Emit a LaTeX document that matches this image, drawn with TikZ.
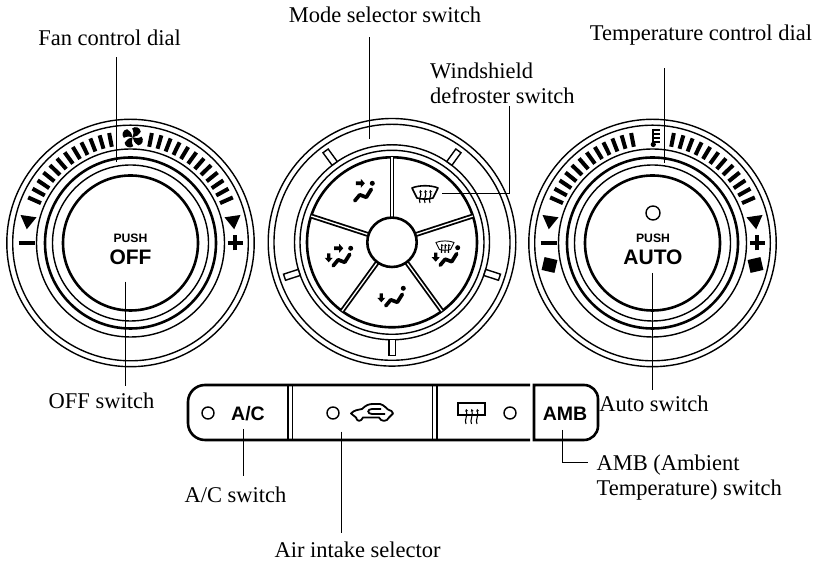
\documentclass[tikz,border=0pt]{standalone}
\usepackage{fontspec}
\setmainfont{Liberation Serif}
\newfontfamily\panelfont{Liberation Sans}
\usetikzlibrary{positioning,calc,arrows.meta}

\tikzset{
	lbl/.style={inner sep=0pt, font=\fontsize{22.5}{25}\selectfont, align=left},
	leader/.style={line width=0.9pt},
	thinring/.style={line width=1.4pt},
	thickring/.style={line width=2.6pt},
	tick/.style={line width=4pt},
	sansbig/.style={inner sep=0pt, font=\panelfont\bfseries\fontsize{21}{21}\selectfont},
	sanssmall/.style={inner sep=0pt, font=\panelfont\bfseries\fontsize{12.2}{13}\selectfont},
	sanspanel/.style={inner sep=0pt, font=\panelfont\bfseries\fontsize{19.5}{20}\selectfont},
	spoke/.style={line width=1.8pt, double=white, double distance=1.3pt},
	lamp/.style={line width=1.4pt, fill=white},
	wave/.style={line width=1.1pt, -{Stealth[length=2.6pt,width=3pt]}},
}

\newcommand{\knobrings}[1]{
	\begin{scope}[shift={(#1,318)}]
		\draw[thinring] (0,0) circle (123.7);
		\draw[thinring] (0,0) circle (117.8);
		\draw[thinring] (0,0) circle (94);
		\draw[thickring] (0,0) circle (85.5);
		\draw[thinring] (0,0) circle (78);
		\draw[thickring] (0,0) circle (67.5);
		\foreach \a in {0,...,11} {
			\draw[tick] (101+\a*5:98) -- (101+\a*5:112);
			\draw[tick] (79-\a*5:98) -- (79-\a*5:112);
		}
		\fill (-110,28) -- (-94,25.7) -- (-103.7,13.7) -- cycle;
		\fill (110,28) -- (94,25.7) -- (103.7,13.7) -- cycle;
		\draw[line width=4.6pt] (-112,0) -- (-96,0);
		\draw[line width=4.6pt] (97,0) -- (112,0) (104.5,-7.5) -- (104.5,7.5);
	\end{scope}
}
\newcommand{\seatbody}[2]{
	\begin{scope}[shift={(#1,#2)}]
		\fill (0,0) circle (2.5);
		\draw[line width=3.7pt, line cap=round, line join=round] (-17.5,-17.5) -- (-12.5,-11.5) -- (-6,-14) -- (-1,-6);
	\end{scope}
}
\newcommand{\ventarrow}[2]{
	\begin{scope}[shift={(#1,#2)}]
		\fill (-16.5,-1.8) -- (-11.5,-1.8) -- (-11.5,-4.5) -- (-7.5,0) -- (-11.5,4.5) -- (-11.5,1.8) -- (-16.5,1.8) -- cycle;
	\end{scope}
}
\newcommand{\footarrow}[2]{
	\begin{scope}[shift={(#1,#2)}]
		\fill (-23.6,-5) -- (-20.4,-5) -- (-20.4,-9.5) -- (-18,-9.5) -- (-22,-14) -- (-26,-9.5) -- (-23.6,-9.5) -- cycle;
	\end{scope}
}
\newcommand{\screenicon}[4]{
	\begin{scope}[shift={(#1,#2)},scale=#3]
		\draw[line width=#4, line join=round] (-13,5) .. controls (-6,8) and (6,8) .. (13,5) -- (8,-5) .. controls (3,-6.5) and (-3,-6.5) .. (-8,-5) -- cycle;
		\foreach \x in {-5,0,5}
			\draw[wave] (\x,-10) .. controls (\x-2,-6) and (\x+2,-3) .. (\x,3);
	\end{scope}
}

\begin{document}
\begin{tikzpicture}[x=1pt, y=1pt]
	\useasboundingbox (0,0) rectangle (817,561);

	\knobrings{130.5}
	\knobrings{652.5}

	\begin{scope}[shift={(132.7,423.7)}]
		\foreach \r in {0,90,180,270}
			\fill[rotate=\r+20] (0,0) .. controls (1,3) and (0,6) .. (-2.5,9.5) .. controls (-7,10.5) and (-10,6) .. (-8.5,2.5) .. controls (-5,3) and (-2,2) .. (0,0) -- cycle;
	\end{scope}
	\draw[line width=2pt] (653.3,432) -- (653.3,417);
	\fill (653.3,416.5) circle (2.6);
	\foreach \y in {431,427,423,419}
		\draw[line width=1.1pt] (653.3,\y) -- (660,\y);
	\foreach \x in {-103,103}
		\fill[shift={(652.5+\x,318-22)},rotate=\x/103*13] (-6.6,-6.6) rectangle (6.6,6.6);

	\node[sansbig] (off) at (130.5,304) {OFF};
	\node[sanssmall, above=7pt of off] (push1) {PUSH};
	\node[sansbig] (auto) at (653,304) {AUTO};
	\node[sanssmall, above=7pt of auto] (push2) {PUSH};
	\draw[lamp] (653,348) circle (7);

	\begin{scope}[shift={(392,318.7)}]
		\draw[thinring] (0,0) circle (123.8);
		\draw[thinring] (0,0) circle (118);
		\draw[thinring] (0,0) circle (97.5);
		\draw[thinring] (0,0) circle (92);
		\draw[thickring] (0,0) circle (85);
		\foreach \a in {54,126,198,270,342}
			\draw[thinring, fill=white, rotate=\a] (97.5,-3.2) rectangle (113,3.2);
		\foreach \a in {18,90,162,234,306}
			\draw[spoke] (\a:24) -- (\a:85);
		\draw[line width=2.6pt, fill=white] (0,0) circle (24.7);
	\end{scope}

	\seatbody{372.3}{377.7}
	\ventarrow{372.3}{377.7}
	\seatbody{350.7}{312.7}
	\ventarrow{350.7}{312.7}
	\footarrow{350.7}{312.7}
	\seatbody{403.3}{272.7}
	\footarrow{403.3}{272.7}
	\seatbody{457.7}{313.3}
	\footarrow{457.7}{313.3}
	\screenicon{425}{368}{1}{1.6pt}
	\screenicon{445}{315}{0.7}{0.9pt}

	\draw[thickring] (530,176) -- (205,176) arc[start angle=90, end angle=180, radius=17] -- (188,138) arc[start angle=180, end angle=270, radius=17] -- (530,121);
	\draw[thickring] (534,121) -- (534,176) -- (584,176) arc[start angle=90, end angle=0, radius=14] -- (598,135) arc[start angle=0, end angle=-90, radius=14] -- cycle;
	\foreach \x in {288,292.5,432.5,437}
		\draw[line width=1.4pt] (\x,121) -- (\x,176);

	\draw[lamp] (208,148) circle (6);
	\draw[lamp] (333,148) circle (6);
	\draw[lamp] (510,148) circle (6);
	\node[sanspanel] (ac) at (248,147.5) {A/C};
	\node[sanspanel] (amb) at (565,147.5) {AMB};

	\draw[line width=1.8pt, line join=round] (351,147.5) .. controls (354,151) and (358,151) .. (362,152) .. controls (366,156) and (369,157) .. (373,157) -- (380,157) .. controls (384,156) and (386,153) .. (388,151.5) .. controls (391,150.5) and (393,149.5) .. (393,147.5) -- (389,143.5) .. controls (387,139) and (381,139) .. (379,143.5) -- (363,143.5) .. controls (361,139) and (357,139) .. (356,143.5) -- cycle;
	\draw[line width=1.8pt] (381,152) -- (372,152) .. controls (367,152) and (367,147) .. (372,147) -- (385,147);

	\draw[line width=1.6pt] (458,146) -- (458,158) -- (485,158) -- (485,146) -- cycle;
	\foreach \x in {466,471.5,477}
		\draw[wave] (\x,137) .. controls (\x-2,141) and (\x+2,145) .. (\x,152);

	\node[lbl] (fanlbl) at (109.5,523) {Fan control dial};
	\node[lbl] (modelbl) at (385,546) {Mode selector switch};
	\node[lbl, anchor=west] (screenlbl) at (430,477.5) {Windshield\\defroster switch};
	\node[lbl] (templbl) at (701,526) {Temperature control dial};
	\node[lbl] (offlbl) at (101.5,160) {OFF switch};
	\node[lbl] (autolbl) at (654,157) {Auto switch};
	\node[lbl] (aclbl) at (235.5,66) {A/C switch};
	\node[lbl] (airlbl) at (357.6,11) {Air intake selector};
	\node[lbl, anchor=west] (amblbl) at (596.4,83.5) {AMB (Ambient\\Temperature) switch};

	\coordinate (fanend) at (116,399);
	\coordinate (modeend) at (369.3,422);
	\coordinate (screenend) at (442,367.7);
	\coordinate (screenknee) at (509.3,367.7);
	\coordinate (tempend) at (664.3,398);
	\coordinate (offend) at (125.5,279.4);
	\coordinate (autoend) at (652.3,288);
	\coordinate (acend) at (243.3,132);
	\coordinate (airend) at (341.7,129.3);
	\coordinate (ambend) at (562,131);
	\coordinate (ambknee) at (562,99);

	\draw[leader, shorten >=11pt] (fanend) -- (fanend |- fanlbl.south);
	\draw[leader, shorten >=14pt] (modeend) -- (modeend |- modelbl.south);
	\draw[leader, shorten >=2pt] (screenend) -- (screenknee) -- (screenknee |- screenlbl.south);
	\draw[leader, shorten >=23pt] (tempend) -- (tempend |- templbl.south);
	\draw[leader, shorten >=7pt] (offend) -- (offend |- offlbl.north);
	\draw[leader, shorten >=6pt] (autoend) -- (autoend |- autolbl.north);
	\draw[leader, shorten >=11pt] (acend) -- (acend |- aclbl.north);
	\draw[leader, shorten >=9pt] (airend) -- (airend |- airlbl.north);
	\draw[leader, shorten >=8pt] (ambend) -- (ambknee) -- (ambknee -| amblbl.west);
\end{tikzpicture}
\end{document}
